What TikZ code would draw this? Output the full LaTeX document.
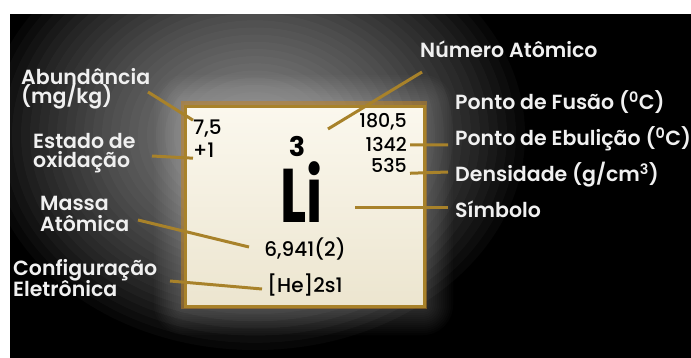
\documentclass[tikz,border=0pt]{standalone}
\usepackage{fontspec}
\setmainfont{Poppins}
\newfontfamily\lblfont{Poppins}[UprightFont=* SemiBold]
\newfontfamily\numfont{Poppins}[UprightFont=* Medium]
\usetikzlibrary{calc}
\definecolor{gold}{HTML}{A8822A}
\definecolor{labelc}{HTML}{F0F0F0}
\definecolor{cream}{HTML}{FBF8EE}
\definecolor{cream2}{HTML}{ECE5CF}
\begin{document}
\begin{tikzpicture}[x=1pt,y=-1pt,
  lbl/.style={anchor=base west,inner sep=0pt,text=labelc,font=\lblfont\fontsize{20.5}{20.5}\selectfont},
  num/.style={anchor=base west,inner sep=0pt,text=black,font=\numfont\fontsize{20}{20}\selectfont},
  numr/.style={anchor=base east,inner sep=0pt,text=black,font=\numfont\fontsize{19}{19}\selectfont},
  conn/.style={draw=gold,line width=3pt}]
\useasboundingbox (0,0) rectangle (691,358);
\fill[white] (0,0) rectangle (691,358);
\begin{scope}
  \clip (10,14) rectangle (691,358);
  \fill[black] (10,14) rectangle (691,358);
  \foreach \i in {0,...,29}{
    \pgfmathsetmacro\f{1-\i/30}
    \fill[white,opacity=0.027] (255,135) ellipse [x radius=270*\f, y radius=215*\f];
  }
  \foreach \d in {2,4,...,30}
    \fill[white,opacity=0.016,rounded corners=\d pt] (184-\d,105-\d) rectangle (423+\d,305+\d);
\end{scope}
% element box
\draw[gold!70!orange,opacity=0.5,line width=7pt] (184,105) rectangle (423,305);
\node[draw=gold,line width=3pt,minimum width=239pt,minimum height=200pt,inner sep=0pt,
      anchor=north west,top color=cream,bottom color=cream2] (box) at (184,105) {};
% labels
\node[lbl] (abund) at (21,85) {Abundância};
\node[lbl] (mgkg) at (21,104) {(mg/kg)};
\node[lbl] (estado) at (33,149) {Estado de};
\node[lbl] (oxid) at (33,168) {oxidação};
\node[lbl] (massa) at (40,211) {Massa};
\node[lbl] (atomica) at (40,232) {Atômica};
\node[lbl] (config) at (13,276) {Configuração};
\node[lbl] (eletr) at (13,296) {Eletrônica};
\node[lbl] (numat) at (420,58) {Número Atômico};
\node[lbl] (fusao) at (455,110) {Ponto de Fusão (\textsuperscript{0}C)};
\node[lbl] (ebul) at (455,146) {Ponto de Ebulição (\textsuperscript{0}C)};
\node[lbl] (dens) at (455,182) {Densidade (g/cm\textsuperscript{3})};
\node[lbl] (simb) at (455,218) {Símbolo};
% box contents
\node[num] (v75) at (193,135) {7,5};
\node[num] (vox) at (193,158) {+1};
\node[anchor=base,inner sep=0pt,font=\bfseries\fontsize{27}{27}\selectfont] (z) at (297,157) {3};
\node[numr] (fus) at (407,128) {180,5};
\node[numr] (ebv) at (407,152) {1342};
\node[numr] (den) at (407,173) {535};
\node[anchor=base,inner sep=0pt,text depth=0pt,font=\bfseries\fontsize{76}{76}\selectfont] (sym) at (302,223) {\scalebox{0.72}[1]{Li}};
\node[num,anchor=base] (mass) at (305,257) {6,941(2)};
\node[num,anchor=base] (conf) at (305,292) {[He]2s1};
% connector ends
\coordinate (c-abund) at (148,92);
\coordinate (c-ox) at (152,156);
\coordinate (c-num) at (422,72);
\coordinate (c-numin) at (328,129);
\coordinate (c-ebul) at (448,145);
\coordinate (c-den) at (448,172);
\coordinate (c-simin) at (355,208);
\coordinate (c-sim) at (448,208);
\coordinate (c-mass) at (138,220);
\coordinate (c-massin) at (249,247);
\coordinate (c-conf) at (170,281);
\coordinate (c-confin) at (262,289);
% connectors
\draw[conn] (c-abund) -- (v75.north west);
\draw[conn] (c-ox) -- (vox.south west);
\draw[conn] (c-num) -- (c-numin);
\draw[conn] ([xshift=3pt]ebv.east) -- (c-ebul);
\draw[conn] ([xshift=3pt]den.south east) -- (c-den);
\draw[conn] (c-simin) -- (c-sim);
\draw[conn] (c-mass) -- (c-massin);
\draw[conn] (c-conf) -- (c-confin);
\end{tikzpicture}
\end{document}
